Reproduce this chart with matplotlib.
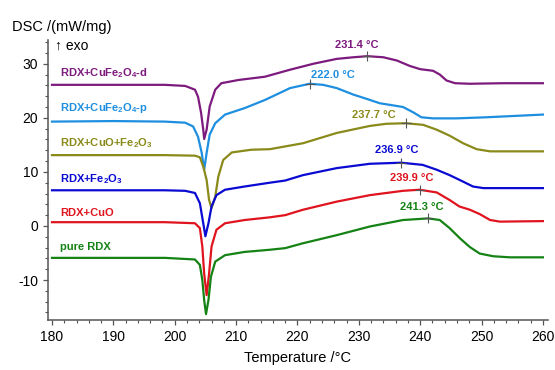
import numpy as np
import matplotlib
matplotlib.use("Agg")
import matplotlib.pyplot as plt
from matplotlib.ticker import MultipleLocator

plt.rcParams['font.family'] = ['Liberation Sans', 'DejaVu Sans']
plt.rcParams['axes.unicode_minus'] = False
plt.rcParams['mathtext.fontset'] = 'custom'
plt.rcParams['mathtext.rm'] = 'Liberation Sans'
plt.rcParams['mathtext.bf'] = 'Liberation Sans:bold'

# RDX+CuFe2O4-d
d_temp = [180, 190, 198.4, 201.7, 203.3, 203.8, 204.3, 204.65, 204.8, 205.2, 205.7, 206.6, 207.6, 210.4,
          214.7, 218.8, 222.6, 226.4, 229.1, 231.4, 234.0, 236.2, 238.3, 240.0, 242.1, 243.2, 244.3,
          245.7, 248.1, 253.5, 260]
d_dsc = [26.1, 26.1, 26.1, 25.9, 25.2, 23.9, 20.9, 17.8, 16.1, 17.8, 22.1, 25.2, 26.4, 27.0,
         27.6, 28.9, 30.0, 30.9, 31.2, 31.4, 31.2, 30.6, 29.6, 29.0, 28.7, 28.0, 26.9,
         26.4, 26.3, 26.4, 26.4]

# RDX+CuFe2O4-p
p_temp = [180, 190, 198.4, 201.7, 203.0, 203.8, 204.4, 204.8, 205.2, 205.7, 206.6, 208.2, 211.4, 214.7,
          218.8, 222.0, 224.2, 226.4, 229.1, 231.3, 233.4, 235.6, 237.2, 238.9, 240.2, 242.1, 245.9,
          250.8, 260]
p_dsc = [19.3, 19.4, 19.3, 19.1, 18.4, 16.5, 13.5, 10.4, 13.5, 16.9, 19.0, 20.6, 21.8, 23.3,
         25.5, 26.3, 26.1, 25.5, 24.3, 23.5, 22.7, 22.3, 22.0, 21.0, 20.1, 19.9, 19.9,
         20.1, 20.6]

# RDX+CuO+Fe2O3
cf_temp = [180, 190, 198.4, 203.3, 204.1, 204.65, 205.2, 205.6, 206.0, 206.6, 207.1, 207.9, 209.3,
           212.5, 215.5, 220.9, 226.4, 231.8, 234.5, 237.7, 240.5, 242.7, 244.8, 247.0, 249.2, 251.4, 260]
cf_dsc = [13.1, 13.1, 13.1, 13.0, 12.7, 11.0, 8.5, 4.8, 3.3, 5.4, 9.1, 12.2, 13.6,
          14.1, 14.2, 15.3, 17.2, 18.5, 18.9, 19.0, 18.7, 17.8, 16.7, 15.3, 14.2, 13.8, 13.8]

# RDX+Fe2O3
fe_temp = [180, 190, 198.4, 201.7, 203.3, 204.1, 204.65, 205.0, 205.5, 206.0, 206.8, 208.2, 211.4,
           215.5, 218.0, 220.9, 226.4, 231.8, 236.9, 240.4, 242.7, 244.8, 247.0, 248.6, 250.3, 260]
fe_dsc = [6.6, 6.6, 6.6, 6.5, 6.1, 4.2, 0.5, -1.9, 0.5, 3.6, 5.7, 6.7, 7.3,
          8.0, 8.4, 9.4, 10.7, 11.5, 11.7, 11.3, 10.4, 9.4, 8.2, 7.3, 7.0, 7.0]

# RDX+CuO
cu_temp = [180, 190, 198.4, 203.3, 204.1, 204.5, 204.8, 205.2, 205.6, 206.0, 206.8, 208.2, 211.4,
           215.5, 218.0, 220.9, 226.4, 231.8, 237.2, 239.9, 242.7, 244.8, 246.4, 248.1, 249.7, 251.4,
           253.0, 260]
cu_dsc = [0.7, 0.7, 0.7, 0.5, -0.4, -3.8, -8.8, -12.8, -8.8, -3.8, -0.7, 0.5, 1.1,
          1.6, 2.0, 3.0, 4.5, 5.7, 6.5, 6.7, 6.2, 4.8, 3.6, 3.0, 2.2, 1.1,
          0.8, 0.9]

# pure RDX
r_temp = [180, 190, 198.4, 203.3, 204.1, 204.5, 204.8, 205.1, 205.5, 205.9, 206.6, 208.2, 211.4,
          215.5, 218.0, 220.9, 226.4, 231.8, 237.2, 241.3, 243.2, 244.8, 246.5, 248.1, 249.7, 251.9,
          254.6, 260]
r_dsc = [-5.9, -5.9, -5.9, -6.2, -7.2, -10.0, -13.7, -16.3, -13.7, -9.4, -6.6, -5.4, -4.8,
         -4.4, -4.1, -3.2, -1.7, -0.1, 1.1, 1.4, 1.1, -0.4, -2.3, -3.9, -5.1, -5.6,
         -5.8, -5.8]

names = [r"RDX+CuFe$\mathbf{_2}$O$\mathbf{_4}$-d", r"RDX+CuFe$\mathbf{_2}$O$\mathbf{_4}$-p",
         r"RDX+CuO+Fe$\mathbf{_2}$O$\mathbf{_3}$", r"RDX+Fe$\mathbf{_2}$O$\mathbf{_3}$",
         "RDX+CuO", "pure RDX"]
colors = ['#7d1a7d', '#1e8fe0', '#8a8a1a', '#0a0ad2', '#e0141e', '#148214']
temps = [d_temp, p_temp, cf_temp, fe_temp, cu_temp, r_temp]
dscs = [d_dsc, p_dsc, cf_dsc, fe_dsc, cu_dsc, r_dsc]

peak_t = [231.4, 222.0, 237.7, 236.9, 239.9, 241.3]
peak_v = [31.4, 26.3, 19.0, 11.7, 6.7, 1.4]
peak_lbl_xy = [(229.7, 33.5), (225.8, 28.0), (232.5, 20.6), (236.2, 14.1), (238.7, 8.9), (240.3, 3.5)]
name_y = [28.3, 21.9, 15.4, 8.7, 2.4, -3.9]

fig = plt.figure(figsize=(5.55, 3.7), dpi=100)
ax = fig.add_axes([0.0865, 0.135, 0.9005, 0.757])

for i in range(6):
    ax.plot(temps[i], dscs[i], color=colors[i], lw=1.6, solid_joinstyle='round')
    ax.plot(peak_t[i], peak_v[i], marker='+', color='#555555', ms=7, mew=0.8)
    ax.text(peak_lbl_xy[i][0], peak_lbl_xy[i][1], f"{peak_t[i]:.1f} °C", color=colors[i],
            fontsize=8, fontweight='bold', ha='center', va='center')
    ax.text(181.3, name_y[i], names[i], color=colors[i], fontsize=8, fontweight='bold',
            ha='left', va='center')

ax.set_xlim(179.35, 260.8)
ax.set_ylim(-17.4, 34.4)
ax.xaxis.set_major_locator(MultipleLocator(10))
ax.xaxis.set_minor_locator(MultipleLocator(2))
ax.yaxis.set_major_locator(MultipleLocator(10))
ax.yaxis.set_minor_locator(MultipleLocator(2))
ax.set_yticks([-10, 0, 10, 20, 30])

for s in ['top', 'right']:
    ax.spines[s].set_visible(False)
for s in ['left', 'bottom']:
    ax.spines[s].set_color('#555555')
    ax.spines[s].set_linewidth(1.1)
ax.tick_params(which='major', length=3.5, width=0.9, color='#555555', labelsize=10)
ax.tick_params(which='minor', length=2.5, width=0.8, color='#555555')

fig.text(12 / 555, 1 - 27 / 370, "DSC /(mW/mg)", fontsize=10.5, ha='left', va='center')
fig.text(55 / 555, 1 - 46 / 370, "↑ exo", fontsize=10, ha='left', va='center')
fig.text(297 / 555, 1 - 358 / 370, "Temperature /°C", fontsize=10.5, ha='center', va='center')

fig.savefig("out.png", dpi=100)
